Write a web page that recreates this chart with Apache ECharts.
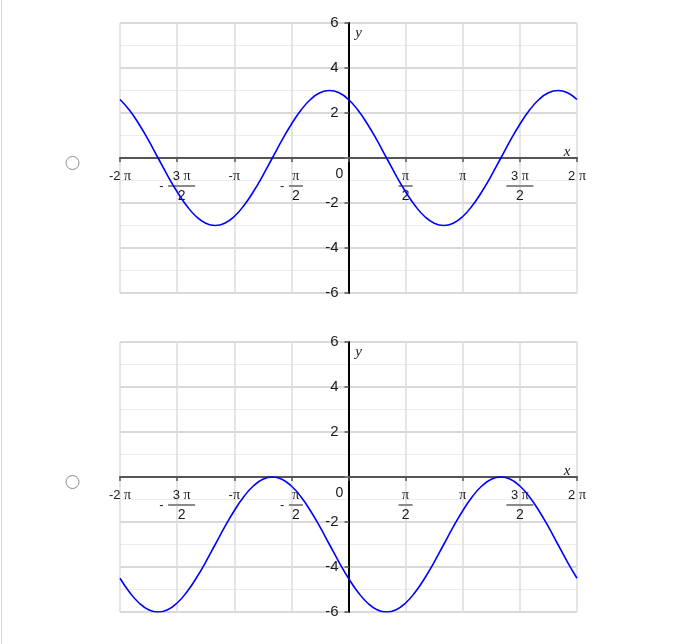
<!DOCTYPE html>
<html><head><meta charset="utf-8">
<script src="https://cdn.jsdelivr.net/npm/echarts@6/dist/echarts.min.js"></script>
<style>html,body{margin:0;padding:0;background:#fff}#c{width:687px;height:644px}</style>
</head><body><div id="c"></div>
<script>
// x positions, in units of π/12 (from -2π to 2π)
const xSteps = [-24,-23,-22,-21,-20,-19,-18,-17,-16,-15,-14,-13,-12,-11,-10,-9,-8,-7,-6,-5,-4,-3,-2,-1,0,
                1,2,3,4,5,6,7,8,9,10,11,12,13,14,15,16,17,18,19,20,21,22,23,24];
// values
const upperValues = [2.6,2.12,1.5,0.78,0,-0.78,-1.5,-2.12,-2.6,-2.9,-3,
                     -2.9,-2.6,-2.12,-1.5,-0.78,0,0.78,1.5,2.12,2.6,2.9,3,
                     2.9,2.6,2.12,1.5,0.78,0,-0.78,-1.5,-2.12,-2.6,-2.9,-3,
                     -2.9,-2.6,-2.12,-1.5,-0.78,0,0.78,1.5,2.12,2.6,2.9,3,
                     2.9,2.6];
// values
const lowerValues = [-4.5,-5.12,-5.6,-5.9,-6,
                     -5.9,-5.6,-5.12,-4.5,-3.78,-3,-2.22,-1.5,-0.88,-0.4,-0.1,0,
                     -0.1,-0.4,-0.88,-1.5,-2.22,-3,-3.78,-4.5,-5.12,-5.6,-5.9,-6,
                     -5.9,-5.6,-5.12,-4.5,-3.78,-3,-2.22,-1.5,-0.88,-0.4,-0.1,0,
                     -0.1,-0.4,-0.88,-1.5,-2.22,-3,-3.78,-4.5];
// x tick labels (at multiples of π/2, from -2π to 2π)
const xTickLabels = ['-2π','-3π/2','-π','-π/2','0','π/2','π','3π/2','2π'];
// y tick labels
const yTicks = [-6,-4,-2,0,2,4,6];

const PI = Math.PI;
const X_MIN = -2*PI, X_MAX = 2*PI;
const SANS = '"Liberation Sans", Arial, sans-serif';
const SERIF = '"Liberation Serif", "Times New Roman", serif';
const TXT = '#1a1a1a';

function xLabelRich(lbl){
  switch(lbl){
    case '-2π': return '{t|-2 }{p|π}';
    case '-3π/2': return '{sp|}{t|3 }{p|π}\n{m|-}{barW|}\n{sp|}{d|2}';
    case '-π': return '{t|-}{p|π}';
    case '-π/2': return '{sp|}{p|π}\n{m|-}{barN|}\n{sp|}{d|2}';
    case '0': return '{z|0}';
    case 'π/2': return '{p|π}\n{barN|}\n{d|2}';
    case 'π': return '{p|π}';
    case '3π/2': return '{t|3 }{p|π}\n{barW|}\n{d|2}';
    case '2π': return '{t|2 }{p|π}';
  }
  return '';
}
const rich = {
  t: {fontFamily: SANS, fontSize: 13, color: TXT, lineHeight: 14},
  p: {fontFamily: SERIF, fontSize: 14, color: TXT, lineHeight: 14},
  sp: {width: 9, lineHeight: 14},
  m: {fontFamily: SANS, fontSize: 13, color: TXT, lineHeight: 6, width: 9, align: 'left'},
  barW: {width: 27, height: 2, backgroundColor: '#8a8a8a', lineHeight: 6},
  barN: {width: 14, height: 2, backgroundColor: '#8a8a8a', lineHeight: 6},
  d: {fontFamily: SANS, fontSize: 14, color: TXT, lineHeight: 15},
  z: {fontFamily: SANS, fontSize: 14, color: TXT, lineHeight: 10, padding: [0, 18, 0, 0]}
};

const grids = [
  {left: 120, top: 23, width: 457, height: 270, outerBoundsMode: 'none', containLabel: false},
  {left: 120, top: 342, width: 457, height: 270, outerBoundsMode: 'none', containLabel: false}
];
const Y_MIN = yTicks[0], Y_MAX = yTicks[yTicks.length-1];

function xAxisCfg(gi){
  // place the x axis on y = 0 (offset from the bottom edge of the grid)
  const off = -(0 - Y_MIN) / (Y_MAX - Y_MIN) * grids[gi].height;
  return {
    type: 'value', gridIndex: gi, min: X_MIN, max: X_MAX, interval: PI/2,
    position: 'bottom', offset: off,
    axisLine: {onZero: false, lineStyle: {color: '#555', width: 2}},
    axisTick: {show: true, length: 4, lineStyle: {color: '#555', width: 1.5}},
    splitLine: {show: true, lineStyle: {color: '#dcdcdc', width: 1.5}},
    axisLabel: {
      show: true, margin: 11, showMinLabel: true, showMaxLabel: true, hideOverlap: false,
      formatter: function(v){ const i = Math.round(v/(PI/2)) + 4; return xLabelRich(xTickLabels[i]); },
      rich: rich
    }
  };
}
function yAxisCfg(gi){
  // place the y axis on x = 0 (offset from the left edge of the grid)
  const off = -(0 - X_MIN) / (X_MAX - X_MIN) * grids[gi].width;
  return {
    type: 'value', gridIndex: gi, min: Y_MIN, max: Y_MAX, interval: 2,
    position: 'left', offset: off,
    axisLine: {onZero: false, lineStyle: {color: '#000', width: 2}},
    axisTick: {show: true, length: 4, lineStyle: {color: '#777', width: 2}},
    minorTick: {show: false, splitNumber: 2},
    splitLine: {show: true, lineStyle: {color: '#d9d9d9', width: 2}},
    minorSplitLine: {show: true, lineStyle: {color: '#ececec', width: 1}},
    axisLabel: {
      margin: 10, fontFamily: SANS, fontSize: 15, color: TXT,
      showMinLabel: true, showMaxLabel: true,
      formatter: function(v){ return v === 0 ? '' : String(v); }
    }
  };
}

const chart = echarts.init(document.getElementById('c'), null, {renderer: 'canvas'});
function pts(vals){ return xSteps.map((k, i) => [k*PI/12, vals[i]]); }
chart.setOption({
  animation: false,
  backgroundColor: '#fff',
  grid: grids,
  xAxis: [xAxisCfg(0), xAxisCfg(1)],
  yAxis: [yAxisCfg(0), yAxisCfg(1)],
  series: [
    {type: 'line', xAxisIndex: 0, yAxisIndex: 0, data: pts(upperValues), smooth: true, showSymbol: false, symbol: 'none',
     lineStyle: {color: '#0000ff', width: 1.6}, z: 5},
    {type: 'line', xAxisIndex: 1, yAxisIndex: 1, data: pts(lowerValues), smooth: true, showSymbol: false, symbol: 'none',
     lineStyle: {color: '#0000ff', width: 1.6}, z: 5}
  ]
});

const gfx = [{type: 'rect', shape: {x: 1, y: 0, width: 1, height: 644}, style: {fill: '#d6d6d6'}, silent: true}];
[0, 1].forEach(gi => {
  const origin = chart.convertToPixel({gridIndex: gi}, [0, 0]);
  const xEnd = chart.convertToPixel({gridIndex: gi}, [X_MAX, 0]);
  const yTop = chart.convertToPixel({gridIndex: gi}, [0, Y_MAX]);
  gfx.push({type: 'circle', shape: {cx: 72.5, cy: origin[1] + 5, r: 6.5},
            style: {fill: '#fff', stroke: '#8c8c8c', lineWidth: 1}, silent: true});
  gfx.push({type: 'text', x: xEnd[0] - 10, y: xEnd[1] - 6,
            style: {text: 'x', font: 'italic 15px ' + SERIF, fill: TXT, align: 'center', verticalAlign: 'middle'}, silent: true});
  gfx.push({type: 'text', x: yTop[0] + 10, y: yTop[1] + 10,
            style: {text: 'y', font: 'italic 15px ' + SERIF, fill: TXT, align: 'center', verticalAlign: 'middle'}, silent: true});
});
chart.setOption({graphic: gfx});
</script>
</body></html>
